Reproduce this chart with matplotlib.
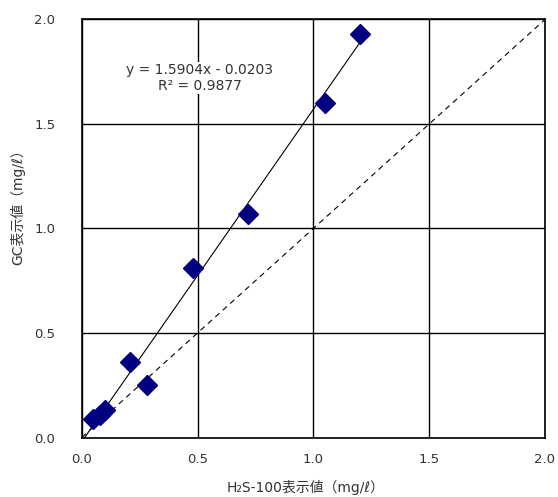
import numpy as np
import matplotlib
matplotlib.use('Agg')
import matplotlib.pyplot as plt

plt.rcParams['font.family'] = ['DejaVu Sans', 'Noto Sans CJK JP']

# H2S-100 reading vs GC reading (mg/l)
h2s_100 = [0.05, 0.08, 0.10, 0.21, 0.28, 0.48, 0.72, 1.05, 1.20]
gc_vals = [0.09, 0.11, 0.13, 0.36, 0.25, 0.81, 1.07, 1.60, 1.93]

# linear trendline from the chart
slope = 1.5904
intercept = -0.0203
r2 = 0.9877

ticks = [0.0, 0.5, 1.0, 1.5, 2.0]
tick_labels = ['0.0', '0.5', '1.0', '1.5', '2.0']

fig = plt.figure(figsize=(5.58, 4.97), dpi=100)
ax = fig.add_axes([0.1464, 0.1197, 0.8303, 0.8411])

# 1:1 line
ax.plot([0, 2], [0, 2], color='black', lw=0.8, ls=(0, (5, 4)), zorder=2)

# trendline
x_fit = np.array([-intercept / slope, max(h2s_100)])
ax.plot(x_fit, slope * x_fit + intercept, color='black', lw=0.8, zorder=2)

ax.plot(h2s_100, gc_vals, ls='none', marker='D', ms=10.5,
        color='#000080', mec='#000080', zorder=3)

ax.set_xlim(0, 2)
ax.set_ylim(0, 2)
ax.set_xticks(ticks)
ax.set_xticklabels(tick_labels)
ax.set_yticks(ticks)
ax.set_yticklabels(tick_labels)
ax.tick_params(length=0, labelsize=9.5, labelcolor='#333333')
ax.tick_params(axis='x', pad=11)
ax.tick_params(axis='y', pad=19)
ax.grid(True, color='black', lw=1)
ax.set_axisbelow(True)
for s in ax.spines.values():
    s.set_linewidth(1.2)

ax.text(0.51, 1.72, 'y = 1.5904x - 0.0203\nR² = 0.9877', ha='center', va='center',
        fontsize=10, color='#333333', linespacing=1.1,
        bbox=dict(facecolor='white', edgecolor='none', pad=1), zorder=4)

ax.set_xlabel('H₂S-100表示値（mg/ℓ）', fontsize=10, color='#333333')
ax.set_ylabel('GC表示値（mg/ℓ）', fontsize=10, color='#333333')
ax.xaxis.set_label_coords(0.484, -0.102)
ax.yaxis.set_label_coords(-0.122, 0.559)

fig.savefig('out.png', dpi=100)
